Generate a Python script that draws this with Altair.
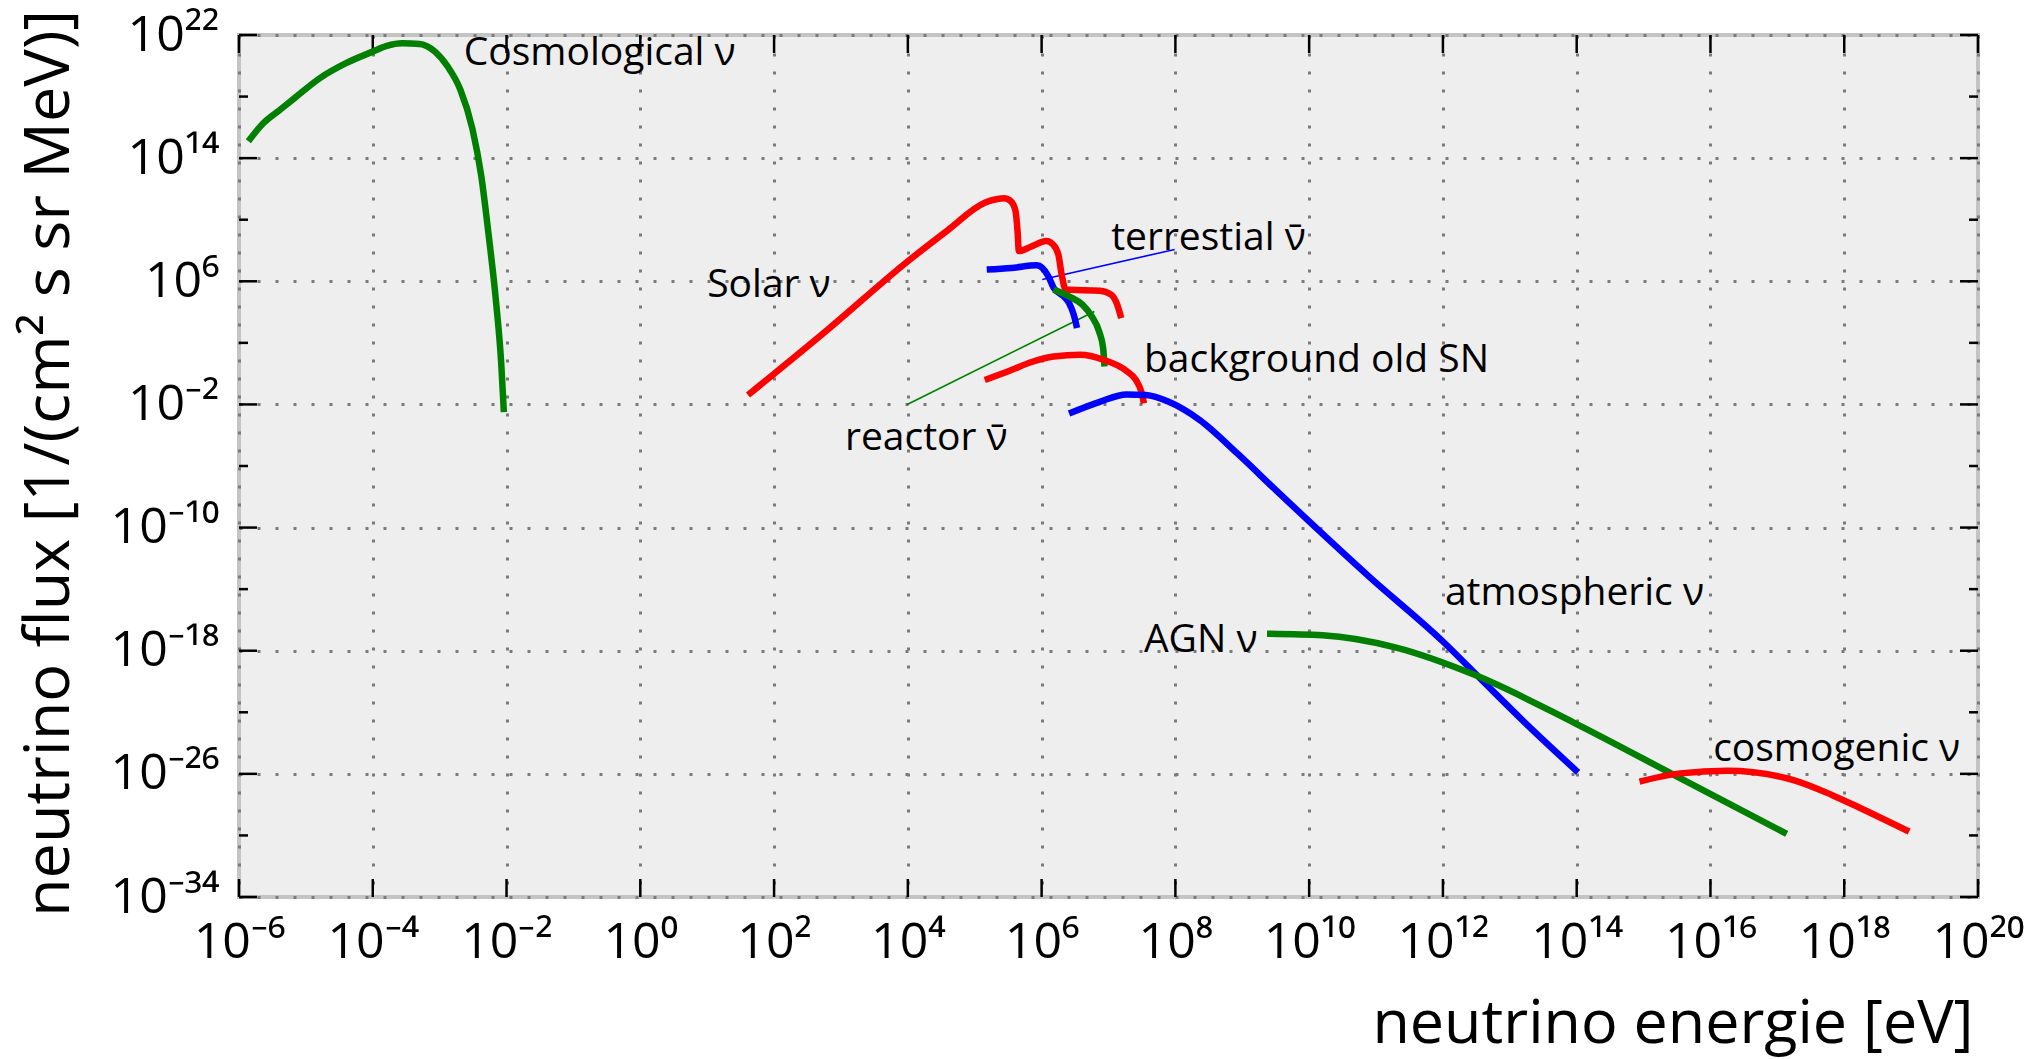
import altair as alt
import pandas as pd

# ---------------- axis ticks / labels ----------------
x_exps = list(range(-6, 21, 2))
y_exps = list(range(-34, 23, 8))
y_minor_exps = list(range(-30, 19, 8))
SUP = str.maketrans("-0123456789", "⁻⁰¹²³⁴⁵⁶⁷⁸⁹")
x_labels = ["10" + str(e).translate(SUP) for e in x_exps]
y_labels = ["10" + str(e).translate(SUP) for e in y_exps]

# ---------------- series (log10 E [eV], log10 flux) ----------------
cosmo_logE = [-5.86, -5.63, -5.40, -5.17, -4.79, -4.40, -4.00, -3.79, -3.56, -3.30, -3.07, -2.88, -2.69, -2.51, -2.38, -2.27, -2.16, -2.08, -2.04]
cosmo_logF = [15.1, 16.3, 17.1, 17.9, 19.2, 20.17, 20.92, 21.29, 21.46, 21.42, 20.92, 19.95, 18.44, 15.9, 12.9, 9.1, 4.8, 0.7, -2.5]

solar_logE = [1.61, 2.80, 4.00, 4.58, 5.15, 5.27, 5.44, 5.54, 5.61, 5.64, 5.66, 5.84, 6.07, 6.17, 6.25, 6.30, 6.36, 6.87, 7.04, 7.13, 7.19]
solar_logF = [-1.39, 2.85, 7.30, 9.26, 11.10, 11.28, 11.39, 11.20, 10.57, 9.26, 7.96, 8.24, 8.61, 8.39, 7.74, 6.43, 5.46, 5.39, 5.13, 4.48, 3.61]

terr_logE = [5.18, 5.55, 5.93, 6.01, 6.10, 6.18, 6.33, 6.41, 6.48, 6.53]
terr_logF = [6.76, 6.87, 7.04, 6.87, 6.33, 5.57, 5.02, 4.59, 3.83, 2.96]

reactor_logE = [6.18, 6.41, 6.61, 6.75, 6.86, 6.92, 6.94]
reactor_logF = [5.46, 5.02, 4.48, 3.72, 2.74, 1.65, 0.46]

sn_logE = [5.15, 5.55, 5.84, 6.18, 6.58, 6.93, 7.27, 7.41, 7.49, 7.53]
sn_logF = [-0.41, 0.24, 0.74, 1.11, 1.22, 0.89, 0.17, -0.41, -1.17, -1.93]

atmo_logE = [6.41, 6.87, 7.27, 7.56, 7.90, 8.36, 8.93, 9.51, 10.00, 10.90, 12.00, 12.58, 13.28, 14.02]
atmo_logF = [-2.59, -1.83, -1.35, -1.39, -1.83, -3.0, -5.2, -7.6, -9.6, -13.2, -17.4, -19.9, -22.9, -25.9]

agn_logE = [9.37, 10.20, 11.30, 12.49, 13.97, 15.46, 17.14]
agn_logF = [-16.9, -17.0, -17.8, -19.6, -22.7, -26.08, -29.9]

cosmogenic_logE = [14.94, 15.55, 16.25, 17.24, 17.83, 18.23, 18.97]
cosmogenic_logF = [-26.5, -25.97, -25.8, -26.4, -27.4, -28.2, -29.75]

series_names = ["cosmological", "solar", "terrestrial", "reactor", "oldSN", "atmospheric", "AGN", "cosmogenic"]
series_colors = ["#007f00", "#ff0000", "#0000ff", "#007f00", "#ff0000", "#0000ff", "#007f00", "#ff0000"]
series_logE = [cosmo_logE, solar_logE, terr_logE, reactor_logE, sn_logE, atmo_logE, agn_logE, cosmogenic_logE]
series_logF = [cosmo_logF, solar_logF, terr_logF, reactor_logF, sn_logF, atmo_logF, agn_logF, cosmogenic_logF]

# pointer lines from labels
pointer_names = ["terrestrial_ptr", "reactor_ptr"]
pointer_colors = ["#0000ff", "#007f00"]
pointer_logE = [[6.01, 7.99], [3.99, 6.79]]
pointer_logF = [[6.11, 8.07], [-2.0, 4.04]]

# text labels
label_texts = ["Cosmological ν", "Solar ν", "terrestial ν̄", "background old SN", "reactor ν̄",
               "atmospheric ν", "AGN ν", "cosmogenic ν"]
label_logE = [-2.64, 1.00, 7.04, 7.53, 3.06, 12.03, 7.53, 16.04]
label_logF = [20.85, 5.75, 8.81, 0.88, -4.19, -14.26, -17.28, -24.39]

# ---------------- tables ----------------
rows = []
for n, le, lf in zip(series_names, series_logE, series_logF):
    for i, (a, b) in enumerate(zip(le, lf)):
        rows.append({"series": n, "i": i, "E": 10.0 ** a, "F": 10.0 ** b})
lines_df = pd.DataFrame(rows)

prow = []
for n, le, lf in zip(pointer_names, pointer_logE, pointer_logF):
    for i, (a, b) in enumerate(zip(le, lf)):
        prow.append({"series": n, "i": i, "E": 10.0 ** a, "F": 10.0 ** b})
ptr_df = pd.DataFrame(prow)

labels_df = pd.DataFrame({"text": label_texts,
                          "E": [10.0 ** v for v in label_logE],
                          "F": [10.0 ** v for v in label_logF]})

xt_df = pd.DataFrame({"E": [10.0 ** e for e in x_exps]})
yt_df = pd.DataFrame({"F": [10.0 ** e for e in y_exps]})
ym_df = pd.DataFrame({"F": [10.0 ** e for e in y_minor_exps]})

W, H = 1739, 862
FONT = "Open Sans"

x_label_expr = "[" + ",".join("'" + s + "'" for s in x_labels) + "][round((log(datum.value)/LN10 + 6)/2)]"
y_label_expr = "[" + ",".join("'" + s + "'" for s in y_labels) + "][round((log(datum.value)/LN10 + 34)/8)]"

x_scale = alt.Scale(type="log", domain=[1e-6, 1e20], nice=False)
y_scale = alt.Scale(type="log", domain=[1e-34, 1e22], nice=False)

x_axis = alt.Axis(values=[10.0 ** e for e in x_exps], labelExpr=x_label_expr, grid=True,
                  gridDash=[3, 15], gridColor="#7a7a7a", gridWidth=3, gridOpacity=1,
                  ticks=False, tickSize=0, domain=False, labelFont=FONT, labelFontSize=50,
                  labelColor="black", labelPadding=20, labelFlush=False, labelOverlap=False,
                  title="neutrino energie [eV]", titleFont=FONT, titleFontSize=61,
                  titleFontWeight="normal", titleColor="black", titleX=1734, titleY=127,
                  titleAlign="right", titleBaseline="middle")
y_axis = alt.Axis(values=[10.0 ** e for e in y_exps], labelExpr=y_label_expr, grid=True,
                  gridDash=[3, 15], gridColor="#7a7a7a", gridWidth=3, gridOpacity=1,
                  ticks=False, tickSize=0, domain=False, labelFont=FONT, labelFontSize=50,
                  labelColor="black", labelPadding=20, labelFlush=False, labelOverlap=False,
                  title="neutrino flux [1/(cm² s sr MeV)]", titleFont=FONT, titleFontSize=63,
                  titleFontWeight="normal", titleColor="black", titleX=-190, titleY=428,
                  titleAlign="center", titleBaseline="middle", titleAngle=270)

X = alt.X("E:Q", scale=x_scale, axis=x_axis)
Y = alt.Y("F:Q", scale=y_scale, axis=y_axis)

lines = alt.Chart(lines_df).mark_line(strokeWidth=6.5, interpolate="monotone", clip=True).encode(
    x=X, y=Y,
    color=alt.Color("series:N", scale=alt.Scale(domain=series_names, range=series_colors), legend=None),
    order="i:Q")

pointers = alt.Chart(ptr_df).mark_line(strokeWidth=1.6).encode(
    x=X, y=Y,
    color=alt.Color("series:N", scale=alt.Scale(domain=pointer_names, range=pointer_colors), legend=None),
    order="i:Q")

labels = alt.Chart(labels_df).mark_text(align="left", baseline="middle", font=FONT, fontSize=39,
                                        color="black").encode(x=X, y=Y, text="text:N")

tick_style = dict(color="black", strokeWidth=2.5)
xt_bottom = alt.Chart(xt_df).mark_rule(**tick_style).encode(x=X, y=alt.value(H), y2=alt.value(H - 18))
xt_top = alt.Chart(xt_df).mark_rule(**tick_style).encode(x=X, y=alt.value(0), y2=alt.value(18))
yt_left = alt.Chart(yt_df).mark_rule(**tick_style).encode(y=Y, x=alt.value(0), x2=alt.value(18))
yt_right = alt.Chart(yt_df).mark_rule(**tick_style).encode(y=Y, x=alt.value(W), x2=alt.value(W - 18))
ym_left = alt.Chart(ym_df).mark_rule(**tick_style).encode(y=Y, x=alt.value(0), x2=alt.value(9))
ym_right = alt.Chart(ym_df).mark_rule(**tick_style).encode(y=Y, x=alt.value(W), x2=alt.value(W - 9))

chart = alt.layer(
    xt_bottom, xt_top, yt_left, yt_right, ym_left, ym_right, pointers, lines, labels
).resolve_scale(color="independent").properties(
    width=W, height=H,
    padding={"left": 239, "top": 35, "right": 60, "bottom": 162},
    autosize=alt.AutoSizeParams(type="none"),
    background="white",
).configure_view(fill="#eeeeee", stroke="#c4c4c4", strokeWidth=4)

chart.save("out.html", embed_options={"renderer": "svg", "actions": False})
